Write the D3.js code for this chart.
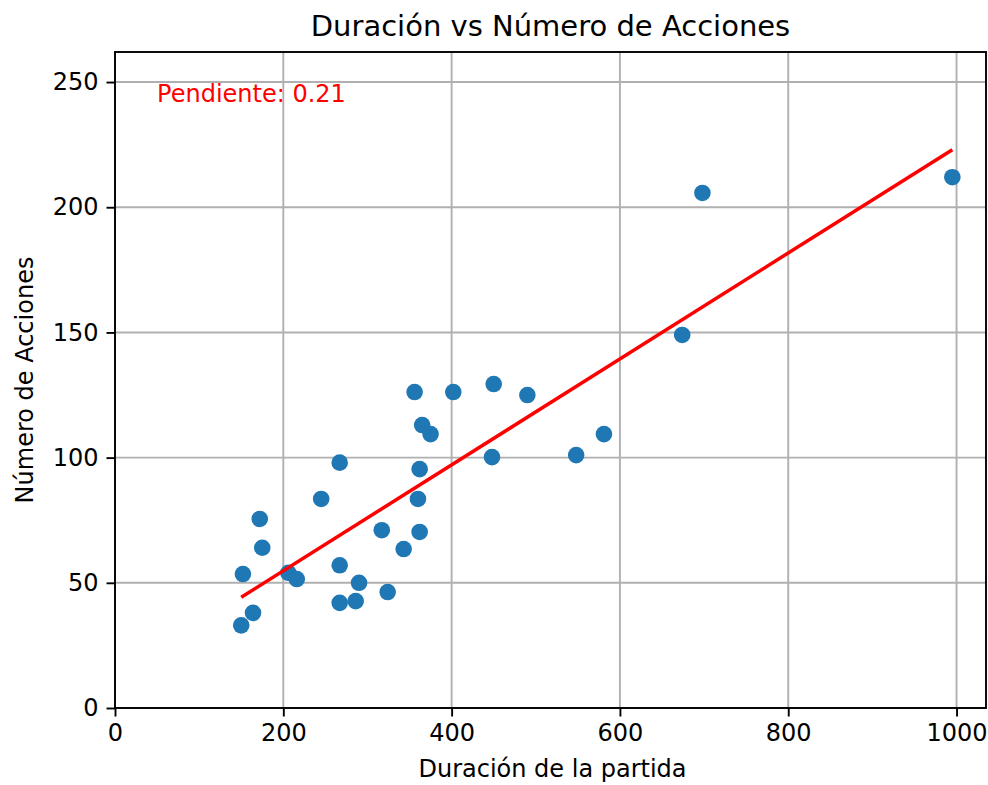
<!DOCTYPE html>
<html>
<head>
<meta charset="utf-8">
<script src="https://cdn.jsdelivr.net/npm/d3@7"></script>
<style>
  body { margin: 0; background: #fff; }
  svg { font-family: "DejaVu Sans", sans-serif; }
</style>
</head>
<body>
<div id="chart"></div>
<script>
// data
const duracion = [150, 164, 152, 172, 175, 206, 216, 245, 267, 267, 267, 286, 290, 324, 317,
                  343, 360, 362, 362, 365, 375, 356, 402, 450, 490, 448, 548, 581, 674, 698, 995];
const acciones = [33, 38, 53.5, 75.5, 64, 54, 51.5, 83.5, 98, 57, 42, 42.7, 50, 46.3, 71,
                  63.5, 83.5, 70.3, 95.4, 113, 109.4, 126.2, 126.2, 129.4, 125, 100.2, 101, 109.4, 149, 205.7, 212];
const xTicks = [0, 200, 400, 600, 800, 1000];
const yTicks = [0, 50, 100, 150, 200, 250];

const width = 988, height = 785;
const margin = { top: 52, right: 2, bottom: 77, left: 115 };
const fs = 24;

const svg = d3.select("#chart").append("svg")
    .attr("width", width).attr("height", height);

const x = d3.scaleLinear().domain([0, 1035]).range([margin.left, width - margin.right]);
const y = d3.scaleLinear().domain([0, 262]).range([height - margin.bottom, margin.top]);

// least squares fit
const mx = d3.mean(duracion), my = d3.mean(acciones);
let sxy = 0, sxx = 0;
duracion.forEach((d, i) => { sxy += (d - mx) * (acciones[i] - my); sxx += (d - mx) * (d - mx); });
const slope = sxy / sxx;
const intercept = my - slope * mx;

// grid
svg.append("g").selectAll("line").data(xTicks).enter().append("line")
    .attr("x1", d => x(d)).attr("x2", d => x(d))
    .attr("y1", margin.top).attr("y2", height - margin.bottom)
    .attr("stroke", "#b0b0b0").attr("stroke-width", 1.9);
svg.append("g").selectAll("line").data(yTicks).enter().append("line")
    .attr("x1", margin.left).attr("x2", width - margin.right)
    .attr("y1", d => y(d)).attr("y2", d => y(d))
    .attr("stroke", "#b0b0b0").attr("stroke-width", 1.9);

// points
svg.append("g").selectAll("circle").data(duracion).enter().append("circle")
    .attr("cx", d => x(d)).attr("cy", (d, i) => y(acciones[i]))
    .attr("r", 8.3).attr("fill", "#1f77b4");

// regression line
const xs = duracion.slice().sort(d3.ascending);
svg.append("path")
    .datum([xs[0], xs[xs.length - 1]])
    .attr("d", d3.line().x(d => x(d)).y(d => y(slope * d + intercept)))
    .attr("stroke", "red").attr("stroke-width", 3.5).attr("fill", "none");

svg.append("text")
    .attr("x", x(50)).attr("y", 102)
    .attr("fill", "red").attr("font-size", fs)
    .text("Pendiente: " + slope.toFixed(2));

// axes
const xAxis = svg.append("g").attr("transform", `translate(0,${height - margin.bottom})`)
    .call(d3.axisBottom(x).tickValues(xTicks).tickSize(8.5).tickPadding(7).tickFormat(d3.format("d")));
const yAxis = svg.append("g").attr("transform", `translate(${margin.left},0)`)
    .call(d3.axisLeft(y).tickValues(yTicks).tickSize(8.5).tickPadding(8).tickFormat(d3.format("d")));
[xAxis, yAxis].forEach(g => {
    g.select(".domain").remove();
    g.selectAll("text").attr("font-size", fs).attr("fill", "#000").attr("font-family", "DejaVu Sans");
    g.selectAll("line").attr("stroke", "#000").attr("stroke-width", 1.9);
});

// frame
svg.append("rect")
    .attr("x", margin.left).attr("y", margin.top)
    .attr("width", width - margin.left - margin.right)
    .attr("height", height - margin.top - margin.bottom)
    .attr("fill", "none").attr("stroke", "#000").attr("stroke-width", 1.9);

// labels
svg.append("text")
    .attr("x", (margin.left + width - margin.right) / 2).attr("y", 36)
    .attr("text-anchor", "middle").attr("font-size", 29)
    .text("Duración vs Número de Acciones");
svg.append("text")
    .attr("x", (margin.left + width - margin.right) / 2 + 2).attr("y", 777)
    .attr("text-anchor", "middle").attr("font-size", fs)
    .text("Duración de la partida");
svg.append("text")
    .attr("transform", `translate(33,${(margin.top + height - margin.bottom) / 2}) rotate(-90)`)
    .attr("text-anchor", "middle").attr("font-size", fs)
    .text("Número de Acciones");
</script>
</body>
</html>
